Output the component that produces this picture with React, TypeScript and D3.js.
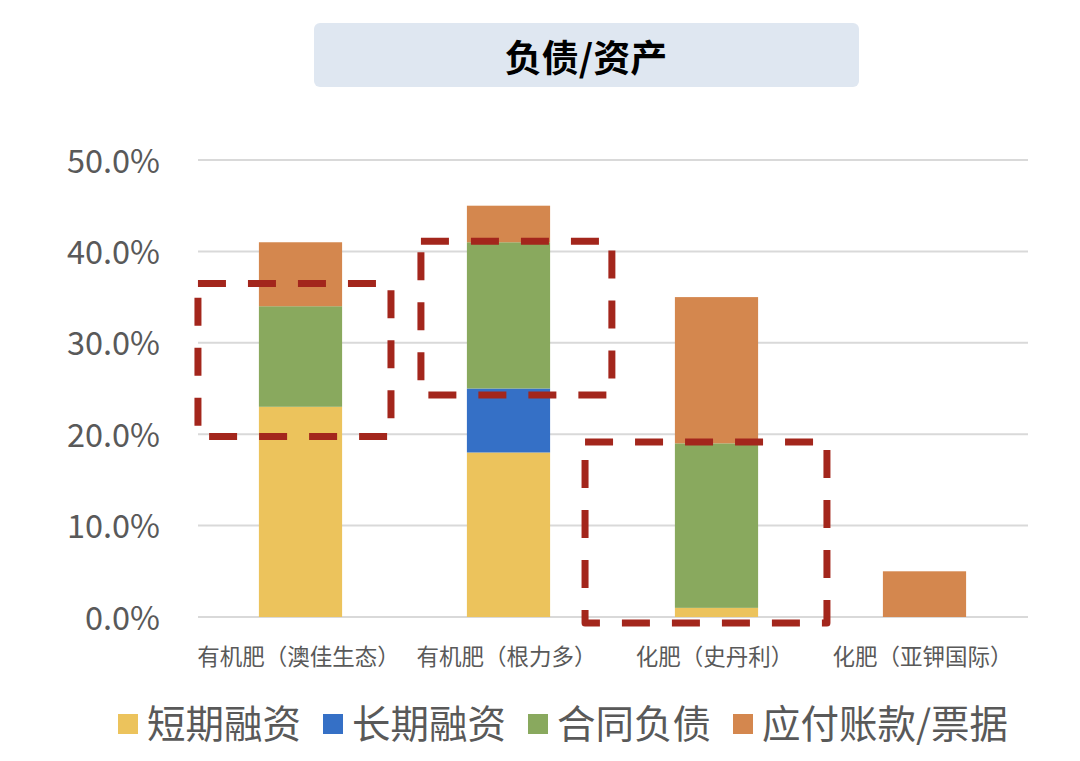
import React from "react";
import * as d3 from "d3";

const categories = ["有机肥（澳佳生态）", "有机肥（根力多）", "化肥（史丹利）", "化肥（亚钾国际）"];
const seriesNames = ["短期融资", "长期融资", "合同负债", "应付账款/票据"];
const shortTerm = [23, 18, 1, 0];
const longTerm = [0, 7, 0, 0];
const contractLiab = [11, 16, 18, 0];
const payables = [7, 4, 16, 5];
const yTicks = [0, 10, 20, 30, 40, 50];
// annotation boxes in data space: x in category units (0..4), y in percent
const boxX0 = [0.007, 1.079, 1.868];
const boxX1 = [0.935, 1.997, 3.031];
const boxYTop = [36.5, 41.1, 19.15];
const boxYBottom = [19.75, 24.3, -0.66];

const COLORS = ["#ECC35C", "#3570C6", "#89A95E", "#D4874E"];
const FONT = "'Noto Sans CJK SC', 'Noto Sans', sans-serif";
const TEXT_COLOR = "#595959";

export default function App() {
  const W = 1080;
  const H = 761;
  const left = 196.5;
  const right = 1028.5;
  const top = 160;
  const bottom = 617;

  const x = d3.scaleBand<string>().domain(categories).range([left, right]).paddingInner(0.6).paddingOuter(0.3);
  const catX = d3.scaleLinear().domain([0, 4]).range([left, right]);
  const y = d3.scaleLinear().domain([0, 50]).range([bottom, top]);

  const table = categories.map((c, i) => ({
    cat: c,
    s0: shortTerm[i],
    s1: longTerm[i],
    s2: contractLiab[i],
    s3: payables[i],
  }));
  const stack = d3.stack<any>().keys(["s0", "s1", "s2", "s3"]);
  const layers = stack(table);

  // legend layout
  const legFs = 38.5;
  const textWidth = (s: string) =>
    Array.from(s).reduce((a, ch) => a + (ch === "/" ? 0.45 * legFs : legFs), 0);
  let lx = 118;
  const legendItems = seriesNames.map((n, i) => {
    const item = { name: n, color: COLORS[i], x: lx };
    lx += 20 + 9 + textWidth(n) + 22;
    return item;
  });

  return (
    <svg width={W} height={H} style={{ position: "absolute", left: 0, top: 0, background: "#fff" }}>
      {/* title */}
      <rect x={314} y={23} width={545} height={64} rx={6} fill="#DFE7F1" />
      <text x={586} y={56} textAnchor="middle" dominantBaseline="central" fontFamily={FONT} fontWeight={700} fontSize={37} fill="#000">
        负债/资产
      </text>

      {/* gridlines */}
      {yTicks.map((t) => (
        <line key={t} x1={198} x2={1028} y1={y(t)} y2={y(t)} stroke="#D9D9D9" strokeWidth={2} />
      ))}
      {yTicks.map((t) => (
        <text key={"l" + t} x={160} y={y(t) - 2} textAnchor="end" dominantBaseline="central" fontFamily={FONT} fontSize={32.5} fill={TEXT_COLOR}>
          {d3.format(".1f")(t) + "%"}
        </text>
      ))}

      {/* bars */}
      {layers.map((layer, li) =>
        layer.map((d, i) => {
          const h = y(d[0]) - y(d[1]);
          if (h <= 0) return null;
          return (
            <rect key={li + "-" + i} x={x(categories[i])} y={y(d[1])} width={x.bandwidth()} height={h} fill={COLORS[li]} />
          );
        })
      )}

      {/* x labels */}
      {categories.map((c) => (
        <text key={c} x={(x(c) as number) + x.bandwidth() / 2 - 2} y={655} textAnchor="middle" dominantBaseline="central" fontFamily={FONT} fontSize={22.5} fill={TEXT_COLOR}>
          {c}
        </text>
      ))}

      {/* annotation boxes */}
      {boxX0.map((bx, i) => (
        <rect
          key={"b" + i}
          x={catX(bx)}
          y={y(boxYTop[i])}
          width={catX(boxX1[i]) - catX(bx)}
          height={y(boxYBottom[i]) - y(boxYTop[i])}
          fill="none"
          stroke="#A3261C"
          strokeWidth={7}
          strokeDasharray="28 22"
          strokeLinejoin="round"
        />
      ))}

      {/* legend */}
      {legendItems.map((it) => (
        <g key={it.name}>
          <rect x={it.x} y={714} width={20} height={20} fill={it.color} />
          <text x={it.x + 29} y={721} dominantBaseline="central" fontFamily={FONT} fontSize={legFs} fill={TEXT_COLOR}>
            {it.name}
          </text>
        </g>
      ))}
    </svg>
  );
}
